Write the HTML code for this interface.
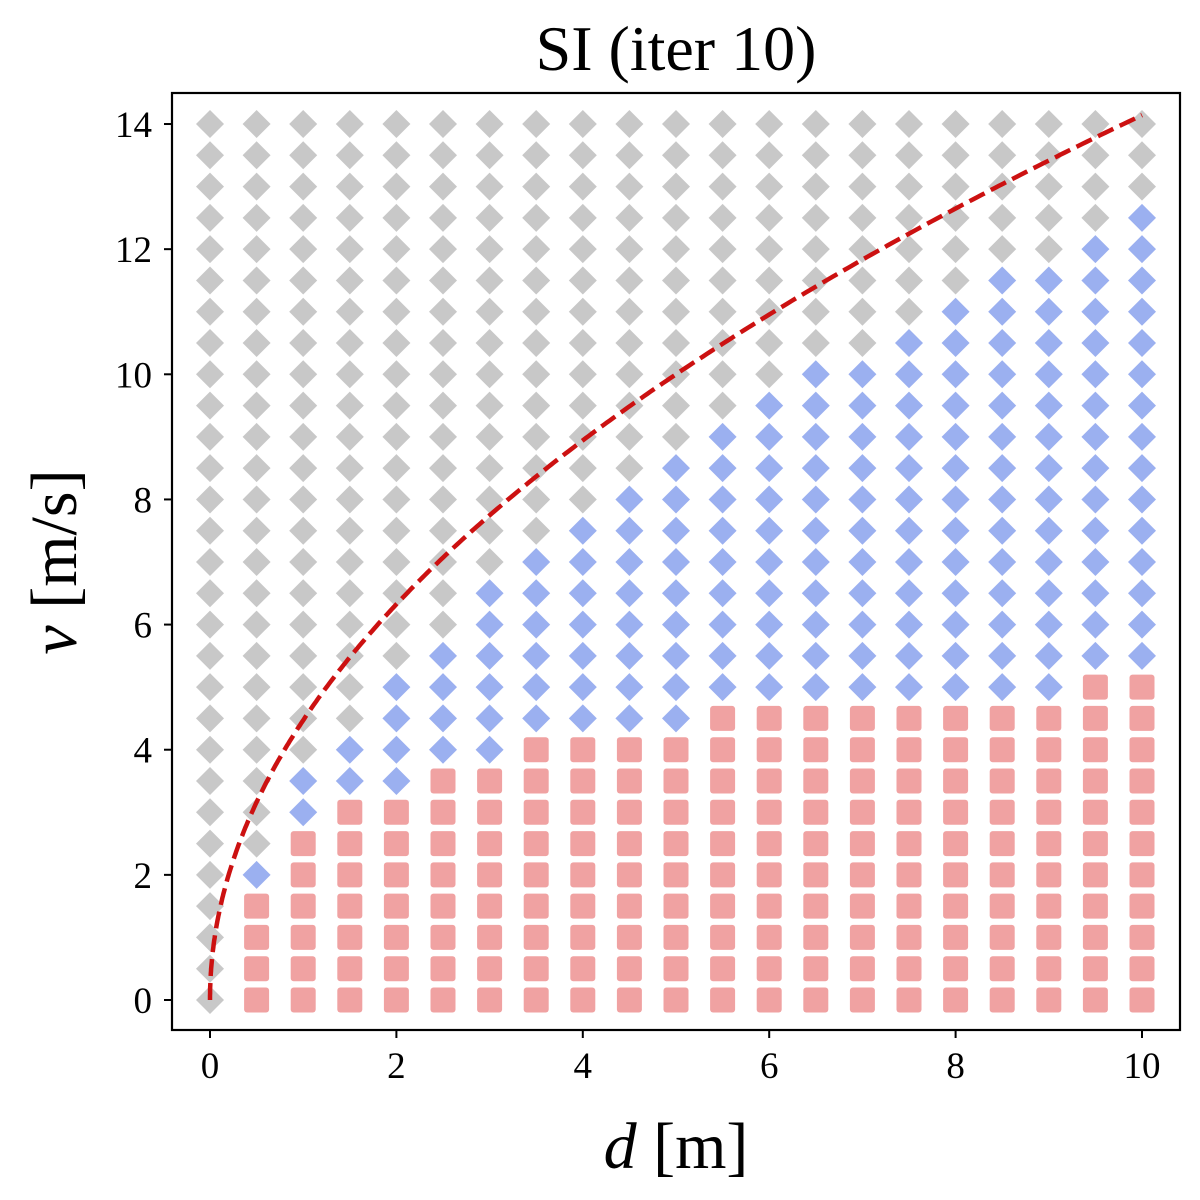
<!DOCTYPE html>
<html><head><meta charset="utf-8"><style>
html,body{margin:0;padding:0;background:#fff;}
svg{display:block;font-family:"Liberation Serif",serif;}
</style></head><body>
<svg id="chart" width="1200" height="1200">
<text x="676" y="70" text-anchor="middle" font-size="64">SI (iter 10)</text>
<g id="marks"></g>
<rect x="172" y="93" width="1008" height="937" fill="none" stroke="#000" stroke-width="2.2"/>
<g id="axes"></g>
<text x="676" y="1168" text-anchor="middle" font-size="66"><tspan font-style="italic">d</tspan> [m]</text>
<text transform="translate(76,562) rotate(-90)" text-anchor="middle" font-size="66"><tspan font-style="italic">v</tspan> [m/s]</text>
</svg>
<script>
const dValues=[0,0.5,1,1.5,2,2.5,3,3.5,4,4.5,5,5.5,6,6.5,7,7.5,8,8.5,9,9.5,10];
const redMax=[-1,1.5,2.5,3,3,3.5,3.5,4,4,4,4,4.5,4.5,4.5,4.5,4.5,4.5,4.5,4.5,5,5];
const blueMax=[-1,2,3.5,4,5,5.5,6.5,7,7.5,8,8.5,9,9.5,10,10,10.5,11,11.5,11.5,12,12.5];
const vMax=14, vStep=0.5;
const xTicks=[0,2,4,6,8,10];
const yTicks=[0,2,4,6,8,10,12,14];
const curveCoef=20;
const NS="http://www.w3.org/2000/svg";
function sx(d){return 210+d*93.2;}
function sy(v){return 1000-v*62.57;}
const marks=document.getElementById('marks');
const axes=document.getElementById('axes');
function mk(t,a,p){const e=document.createElementNS(NS,t);for(const k in a)e.setAttribute(k,a[k]);p.appendChild(e);return e;}
dValues.forEach((d,i)=>{
  for(let v=0;v<=vMax+1e-9;v+=vStep){
    const x=sx(d),y=sy(v);let e;const r=14;
    if(v<=redMax[i]+1e-9){
      e=mk('rect',{x:x-12.5,y:y-12.5,width:25,height:25,rx:3,fill:'#f0a2a2'},marks);
      
    }else if(v<=blueMax[i]+1e-9){
      e=mk('path',{d:`M${x} ${y-r}L${x+r} ${y}L${x} ${y+r}L${x-r} ${y}Z`,fill:'#9bb0f0'},marks);
      
    }else{
      e=mk('path',{d:`M${x} ${y-r}L${x+r} ${y}L${x} ${y+r}L${x-r} ${y}Z`,fill:'#c8c8c8'},marks);
      
    }
    
  }
});
let pts=[];for(let k=0;k<=400;k++){const d=10*Math.pow(k/400,2);pts.push(sx(d).toFixed(1)+','+sy(Math.sqrt(curveCoef*d)).toFixed(1));}
const line=mk('polyline',{points:pts.join(' '),fill:'none',stroke:'#cc1111','stroke-width':4.5,'stroke-dasharray':'17,7'},marks);


xTicks.forEach(t=>{
  const l=mk('line',{x1:sx(t),x2:sx(t),y1:1030,y2:1038,stroke:'#000','stroke-width':2},axes);
  
  
  const tx=mk('text',{x:sx(t),y:1078,'text-anchor':'middle','font-size':37},axes);tx.textContent=t;
  
  
});
yTicks.forEach(t=>{
  const l=mk('line',{x1:164,x2:172,y1:sy(t),y2:sy(t),stroke:'#000','stroke-width':2},axes);
  
  
  const tx=mk('text',{x:152,y:sy(t)+13,'text-anchor':'end','font-size':37},axes);tx.textContent=t;
  
  
});
</script>
</body></html>
